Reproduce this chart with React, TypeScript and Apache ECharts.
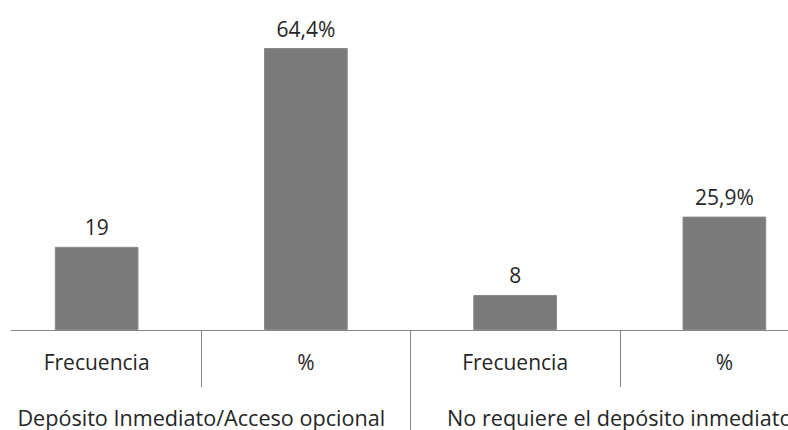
import React, { useEffect, useRef } from "react";
import * as echarts from "echarts";

const groups = ["Depósito Inmediato/Acceso opcional", "No requiere el depósito inmediato"];
const measures = ["Frecuencia", "%", "Frecuencia", "%"];
const values = [19, 64.4, 8, 25.9];
const isPercent = [false, true, false, true];

const FONT = "'Open Sans', 'DejaVu Sans', sans-serif";
const LINE = "#868686";
const TEXT = "#262626";

export default function App() {
  const ref = useRef<HTMLDivElement>(null);
  useEffect(() => {
    if (!ref.current) return;
    const chart = echarts.init(ref.current, undefined, { renderer: "svg" });
    chart.setOption({
      animation: false,
      backgroundColor: "#ffffff",
      grid: {
        left: -8,
        width: 837,
        top: 23.5,
        bottom: 100,
        containLabel: false,
        outerBoundsMode: "none",
      },
      xAxis: [
        {
          type: "category",
          data: measures,
          position: "bottom",
          axisLine: { show: false },
          axisTick: { show: true, interval: 0, length: 57, lineStyle: { color: LINE, width: 1 } },
          axisLabel: { interval: 0, margin: 21, fontSize: 21, color: TEXT, fontFamily: FONT },
        },
        {
          type: "category",
          data: groups,
          position: "bottom",
          offset: 0,
          axisLine: { show: false },
          axisTick: { show: true, interval: 0, length: 110, lineStyle: { color: LINE, width: 1 } },
          axisLabel: { interval: 0, margin: 76, fontSize: 21.6, color: TEXT, fontFamily: FONT },
        },
      ],
      yAxis: { type: "value", min: 0, max: 70, show: false, splitLine: { show: false } },
      series: [
        {
          type: "bar",
          xAxisIndex: 0,
          data: values,
          barWidth: "40%",
          itemStyle: { color: "#7b7b7b", borderColor: "#8a8a8a", borderWidth: 1 },
          label: {
            show: true,
            position: "top",
            distance: 9,
            fontSize: 21,
            color: TEXT,
            fontFamily: FONT,
            formatter: (p: any) =>
              isPercent[p.dataIndex]
                ? values[p.dataIndex].toFixed(1).replace(".", ",") + "%"
                : String(values[p.dataIndex]),
          },
        },
      ],
      graphic: [
        {
          type: "line",
          shape: { x1: 11, y1: 330.5, x2: 788, y2: 330.5 },
          style: { stroke: LINE, lineWidth: 1 },
          z: 10,
        },
      ],
    });
    return () => chart.dispose();
  }, []);
  return <div ref={ref} style={{ width: 788, height: 430, position: "fixed", left: 0, top: 0 }} />;
}
